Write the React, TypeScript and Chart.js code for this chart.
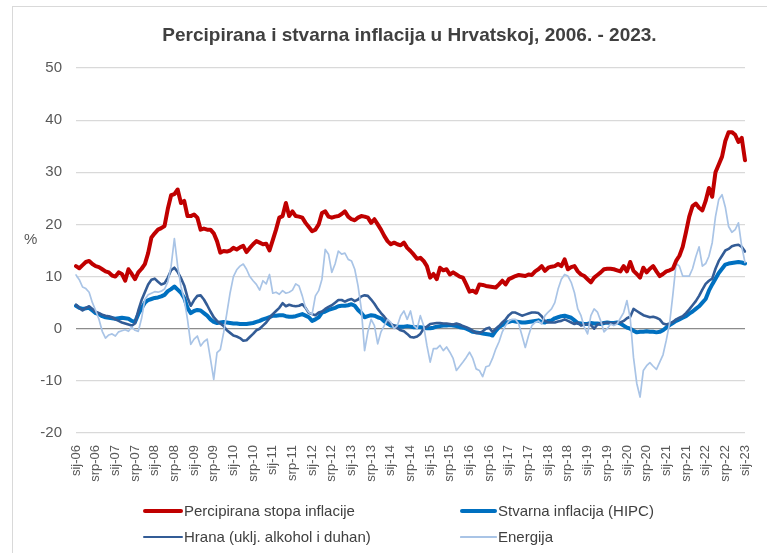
import React, { useEffect, useRef } from "react";
import { Chart, registerables } from "chart.js";

Chart.register(...registerables);

const monthNames = ["sij", "velj", "ožu", "tra", "svi", "lip", "srp", "kol", "ruj", "lis", "stu", "pro"];
const yearLabels = ["06", "07", "08", "09", "10", "11", "12", "13", "14", "15", "16", "17", "18", "19", "20", "21", "22", "23"];
const categories: string[] = [];
yearLabels.forEach((y) => monthNames.forEach((m) => categories.push(m + "-" + y)));
categories.length = 205;

const seriesNames = [
  "Percipirana stopa inflacije",
  "Stvarna inflacija (HIPC)",
  "Hrana (uklj. alkohol i duhan)",
  "Energija",
];

const perceived = [
  12.0, 11.6, 12.2, 12.8, 13.0, 12.4, 12.0, 11.8, 11.4, 11.0, 10.8, 10.2,
  10.0, 10.8, 10.5, 9.2, 11.4, 10.5, 9.5, 10.8, 11.5, 12.4, 14.5, 17.5,
  18.3, 19.0, 19.3, 19.7, 23.0, 25.6, 25.8, 26.7, 24.1, 24.5, 21.6, 21.6,
  21.9, 21.3, 19.0, 19.2, 19.0, 19.0, 18.3, 16.8, 14.6, 14.9, 14.8, 15.0,
  15.5, 15.2, 15.6, 15.9, 14.7, 15.5, 16.2, 16.8, 16.5, 16.2, 16.3, 15.0,
  17.0, 19.0, 21.3, 21.6, 24.1, 21.6, 22.5, 21.6, 21.5, 21.3, 20.3, 19.5,
  18.7, 19.0, 20.0, 22.2, 22.5, 21.5, 21.3, 21.5, 21.6, 22.0, 22.5, 21.5,
  21.0, 20.8, 21.3, 21.6, 21.5, 21.3, 20.3, 21.0, 20.0, 19.0, 17.8, 16.8,
  16.2, 16.5, 16.2, 16.0, 16.5, 15.5, 14.9, 14.2, 13.4, 13.6, 13.0, 12.0,
  9.8, 10.5, 9.5, 11.7, 11.2, 11.4, 10.4, 10.8, 10.4, 10.0, 9.8, 8.5,
  7.1, 7.3, 6.9, 8.5, 8.4, 8.2, 8.1, 8.0, 7.9, 8.5, 9.2, 8.5,
  9.5, 9.8, 10.1, 10.3, 10.2, 10.1, 10.4, 10.3, 11.0, 11.4, 12.0, 11.1,
  11.7, 11.9, 12.0, 12.4, 12.0, 13.3, 11.4, 11.8, 12.0, 11.0, 10.4, 10.1,
  9.5, 8.9, 9.8, 10.3, 10.8, 11.4, 11.5, 11.5, 11.4, 11.2, 11.0, 12.0,
  11.0, 12.8, 11.1, 10.5, 9.8, 11.7, 10.8, 11.5, 12.0, 11.0, 10.1, 10.5,
  11.0, 11.2, 11.5, 13.0, 14.0, 15.7, 18.5, 21.5, 23.5, 24.0, 23.2, 22.7,
  24.5, 27.0, 25.3, 30.0, 31.5, 33.0, 36.0, 37.7, 37.7, 37.2, 35.8, 36.6,
  32.3,
];

const hicp = [
  4.4, 4.0, 3.8, 3.9, 4.0, 3.5, 3.0, 2.8, 2.4, 2.2, 2.1, 2.0,
  1.9, 2.0, 2.1, 2.0, 1.9, 1.5, 1.3, 2.8, 3.9, 5.0, 5.5, 5.7,
  5.9, 6.0, 6.2, 6.5, 7.2, 7.6, 8.1, 7.5, 6.9, 5.9, 4.0, 3.0,
  3.4, 3.6, 3.5, 3.0, 2.5, 1.8, 1.3, 1.1, 1.2, 1.3, 1.2, 1.1,
  1.0, 1.0, 0.9, 0.9, 0.9, 1.0, 1.1, 1.3, 1.5, 1.8, 2.0, 2.2,
  2.5, 2.5, 2.6, 2.6, 2.4, 2.3, 2.3, 2.4, 2.6, 2.8, 2.5, 2.2,
  1.5, 1.8, 2.2, 3.1, 3.3, 3.6, 3.8, 4.0, 4.3, 4.4, 4.4, 4.5,
  4.7, 4.4, 3.6, 3.0, 2.2, 2.4, 2.6, 2.5, 2.2, 2.0, 1.4, 1.0,
  0.6, 0.5, 0.4, 0.4, 0.4, 0.5, 0.4, 0.3, 0.3, 0.3, 0.2, 0.1,
  0.1, 0.2, 0.4, 0.5, 0.6, 0.6, 0.7, 0.6, 0.5, 0.3, 0.2, 0.0,
  -0.3, -0.6, -0.7, -0.8, -0.9, -1.0, -1.1, -1.3, -0.4, 0.3, 0.7, 1.2,
  1.3, 1.5, 1.4, 1.3, 1.2, 1.2, 1.3, 1.4, 1.5, 1.6, 1.3, 1.2,
  1.5, 1.6, 2.0, 2.2, 2.4, 2.5, 2.3, 2.1, 1.6, 1.1, 1.0, 0.9,
  0.9, 1.1, 1.0, 1.0, 0.9, 1.1, 1.2, 1.1, 1.1, 1.2, 1.0, 0.6,
  0.2, 0.0, -0.4, -0.7, -0.6, -0.6, -0.5, -0.6, -0.6, -0.7, -0.6, -0.3,
  0.2, 0.7, 1.1, 1.5, 1.8, 2.1, 2.4, 2.9, 3.3, 3.8, 4.3, 5.0,
  5.7, 7.3, 8.5, 9.6, 10.7, 11.5, 12.3, 12.5, 12.6, 12.7, 12.8, 12.7,
  12.5,
];

const food = [
  4.6, 4.0, 3.5, 4.0, 4.3, 3.8, 3.2, 3.0, 2.7, 2.5, 2.4, 2.2,
  1.8, 1.5, 1.2, 1.0, 0.8, 0.6, 1.0, 3.5, 5.5, 7.0, 8.5, 9.4,
  9.6, 9.0, 8.5, 8.7, 9.8, 11.2, 11.7, 10.9, 9.7, 8.3, 6.0, 4.4,
  5.5, 6.3, 6.4, 5.6, 4.5, 3.3, 2.2, 1.5, 1.0, 0.5, -0.3, -0.8,
  -1.3, -1.5, -1.8, -2.3, -2.2, -1.6, -1.0, -0.3, 0.0, 0.6, 1.2, 2.0,
  2.8, 3.4, 4.0, 4.9, 4.3, 4.6, 4.4, 4.3, 4.4, 4.7, 4.0, 3.0,
  2.8, 2.6, 3.1, 3.3, 3.8, 4.2, 4.5, 5.0, 5.5, 5.5, 5.2, 5.5,
  5.7, 5.3, 5.6, 6.2, 6.4, 6.3, 5.6, 4.8, 3.8, 3.0, 2.3, 1.5,
  0.9, 0.6, 0.1, -0.3, -0.5, -1.0, -1.6, -1.7, -1.5, -1.0, 0.0, 0.4,
  0.9, 1.0, 1.1, 1.1, 1.0, 1.0, 0.9, 0.8, 1.0, 0.8, 0.5, 0.3,
  0.0, -0.4, -0.8, -0.8, -0.5, 0.0, 0.2, -0.6, 0.0, 0.5, 1.2, 1.8,
  2.6, 3.1, 3.1, 2.8, 2.5, 2.7, 2.9, 3.1, 3.1, 3.0, 2.4, 1.5,
  1.2, 1.2, 1.2, 1.4, 1.5, 1.8, 1.5, 1.2, 0.9, 1.2, 0.6, 0.8,
  0.9, 0.7, 0.0, 0.8, 1.0, 1.1, 1.2, 1.1, 1.0, 1.2, 1.2, 1.5,
  2.0, 2.3, 3.8, 3.4, 3.0, 2.6, 2.4, 2.2, 2.3, 2.1, 1.8, 1.0,
  0.8, 1.0, 1.3, 1.8, 2.1, 2.4, 3.0, 3.7, 4.5, 5.3, 6.3, 7.5,
  8.6, 9.2, 9.6, 11.5, 13.0, 14.0, 15.0, 15.3, 15.8, 16.0, 16.1, 15.7,
  14.8,
];

const energy = [
  10.3, 9.4, 8.0, 7.7, 7.0, 5.0, 3.5, 1.8, -0.5, -1.8, -1.2, -1.0,
  -1.4, -0.6, -0.4, -0.2, -0.5, 0.3, -0.3, -0.5, 2.0, 5.6, 6.5, 6.8,
  7.1, 7.0, 7.2, 7.6, 9.0, 12.0, 17.3, 12.0, 8.1, 5.6, 1.8, -3.0,
  -2.0, -1.4, -3.3, -2.5, -2.0, -5.8, -9.7, -4.6, -4.0, -0.8, 3.0, 6.9,
  10.0, 11.3, 12.0, 12.4, 11.4, 10.0, 9.2, 8.5, 7.4, 9.2, 8.6, 10.4,
  6.8, 7.0, 6.6, 7.3, 6.8, 7.0, 7.4, 8.6, 8.2, 6.3, 4.0, 3.1,
  2.8, 6.3, 7.3, 9.5, 15.2, 14.3, 10.8, 12.4, 14.9, 14.3, 14.5, 13.3,
  13.0, 11.4, 8.2, 3.8, -4.2, -0.6, 1.8, 0.6, -2.9, -0.6, 0.6, 1.8,
  1.2, 0.0, 0.6, 2.5, 3.4, 1.8, 3.4, 0.6, 0.0, 2.5, 0.6, -3.2,
  -6.4, -3.8, -3.8, -3.2, -4.2, -3.5, -4.5, -5.7, -8.0, -7.2, -6.4, -5.5,
  -4.5, -5.7, -7.7, -8.0, -9.2, -7.3, -7.1, -5.7, -3.9, -2.5, -0.6, 0.6,
  1.5, 1.8, 1.8, 0.9, -1.3, -3.6, -1.3, 0.6, 1.2, 1.5, 0.9, 2.5,
  3.2, 3.8, 5.0, 7.6, 9.5, 10.4, 10.1, 8.9, 6.9, 3.8, 2.5, 0.3,
  -1.0, 2.5, 3.8, 3.2, 1.5, -0.6, 0.0, 0.9, 0.6, 0.9, 2.0, 3.1,
  5.4, 2.0, -5.5, -10.5, -13.1, -8.0, -7.1, -6.5, -7.2, -7.8, -6.4, -5.0,
  -2.2, 1.0, 6.5, 12.5, 12.0, 10.1, 10.1, 10.1, 11.5, 13.8, 15.7, 12.0,
  12.5, 13.9, 16.5, 21.5, 24.8, 25.7, 23.3, 19.6, 18.5, 19.0, 20.3, 15.8,
  12.7,
];

const yTicks = [-20, -10, 0, 10, 20, 30, 40, 50];

const colors = ["#C00000", "#0070C0", "#335C96", "#A9C4E6"];
const widths = [4, 4, 2.6, 1.7];

const FONT = '"Liberation Sans", Arial, sans-serif';

export default function App() {
  const canvasRef = useRef<HTMLCanvasElement | null>(null);

  useEffect(() => {
    const canvas = canvasRef.current;
    if (!canvas) return;
    const seriesData = [perceived, hicp, food, energy];
    const orders = [0, 3, 2, 1];
    const chart = new Chart(canvas, {
      type: "line",
      data: {
        labels: categories,
        datasets: seriesData.map((d, i) => ({
          label: seriesNames[i],
          data: d,
          borderColor: colors[i],
          backgroundColor: colors[i],
          borderWidth: widths[i],
          pointRadius: 0,
          pointHoverRadius: 0,
          tension: 0,
          fill: false,
          borderJoinStyle: "round" as const,
          borderCapStyle: "round" as const,
          order: orders[i],
        })),
      },
      options: {
        responsive: false,
        maintainAspectRatio: false,
        animation: false,
        devicePixelRatio: 1,
        layout: { padding: { left: 0, top: 68, right: 22, bottom: 70 } },
        plugins: {
          legend: { display: false },
          tooltip: { enabled: false },
          title: { display: false },
        },
        scales: {
          x: {
            type: "category",
            offset: false,
            grid: { display: false },
            border: { display: false },
            afterBuildTicks: (scale: any) => {
              scale.ticks = scale.ticks.filter((_t: any, i: number) => i % 6 === 0);
            },
            afterFit: (scale: any) => {
              scale.height = 50;
            },
            ticks: {
              autoSkip: false,
              maxRotation: 90,
              minRotation: 90,
              padding: 4,
              color: "#595959",
              font: { family: FONT, size: 13 },
            },
          },
          y: {
            min: yTicks[0],
            max: yTicks[yTicks.length - 1],
            afterBuildTicks: (scale: any) => {
              scale.ticks = yTicks.map((v) => ({ value: v }));
            },
            afterFit: (scale: any) => {
              scale.width = 76;
            },
            border: { display: false },
            grid: {
              drawTicks: false,
              lineWidth: 1.2,
              color: (ctx: any) => (ctx.tick && ctx.tick.value === 0 ? "#8C8C8C" : "#D9D9D9"),
            },
            ticks: {
              padding: 14,
              color: "#595959",
              font: { family: FONT, size: 15 },
            },
          },
        },
      },
    });
    return () => chart.destroy();
  }, []);

  const legendRows = [
    { y: 511, items: [0, 1] },
    { y: 537, items: [2, 3] },
  ];
  const colX = [143, 460];
  const lineLen = [40, 37];

  return (
    <div
      style={{
        position: "fixed",
        left: 0,
        top: 0,
        width: 767,
        height: 553,
        overflow: "hidden",
        background: "#ffffff",
        fontFamily: FONT,
      }}
    >
      <div
        style={{
          position: "absolute",
          left: 12,
          top: 6,
          width: 800,
          height: 600,
          border: "1px solid #D9D9D9",
          boxSizing: "border-box",
        }}
      />
      <canvas
        ref={canvasRef}
        width={767}
        height={553}
        style={{ position: "absolute", left: 0, top: 0, width: 767, height: 553 }}
      />
      <div
        style={{
          position: "absolute",
          left: 0,
          top: 24,
          width: 819,
          textAlign: "center",
          fontSize: 19,
          lineHeight: "22px",
          fontWeight: "bold",
          color: "#404040",
          whiteSpace: "nowrap",
        }}
      >
        Percipirana i stvarna inflacija u Hrvatskoj, 2006. - 2023.
      </div>
      <div
        style={{
          position: "absolute",
          left: 24,
          top: 230,
          fontSize: 15,
          lineHeight: "18px",
          color: "#595959",
        }}
      >
        %
      </div>
      {legendRows.map((row) =>
        row.items.map((idx, c) => (
          <React.Fragment key={idx}>
            <div
              style={{
                position: "absolute",
                left: colX[c],
                top: row.y - widths[idx] / 2,
                width: lineLen[c],
                height: widths[idx],
                background: colors[idx],
                borderRadius: widths[idx] / 2,
              }}
            />
            <div
              style={{
                position: "absolute",
                left: colX[c] + lineLen[c] + 1,
                top: row.y - 9,
                height: 18,
                lineHeight: "18px",
                fontSize: 15,
                color: "#404040",
                whiteSpace: "nowrap",
              }}
            >
              {seriesNames[idx]}
            </div>
          </React.Fragment>
        ))
      )}
    </div>
  );
}
